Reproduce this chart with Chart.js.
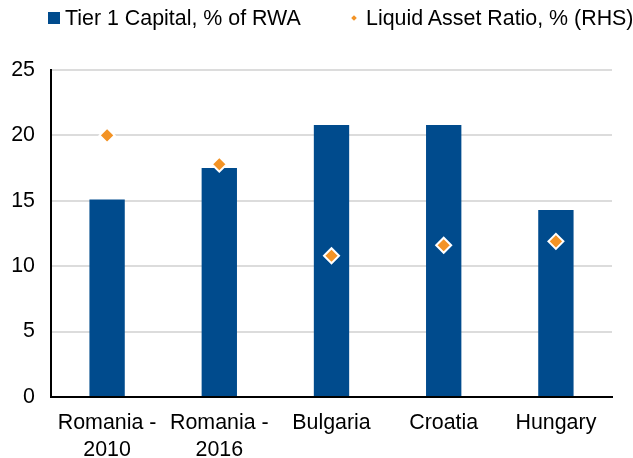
<!DOCTYPE html>
<html>
<head>
<meta charset="UTF-8">
<title>Tier 1 Capital and Liquid Asset Ratio</title>
<style>
  html, body { margin: 0; padding: 0; background: #fff; }
  #wrap { position: relative; width: 633px; height: 458px; overflow: hidden; }
  #chart { position: absolute; left: 0; top: 0; }
  .legend { position: absolute; left: 0; top: 0; width: 633px; height: 40px;
            font: 21.4px 'Liberation Sans', Arial, sans-serif; color: #000; }
  .legend span { position: absolute; white-space: nowrap; }
  .txt { top: 6px; line-height: 24px; }
  .sq { left: 48px; top: 12px; width: 12px; height: 12px; background: #004B8D; }
  .dm { left: 352px; top: 16px; width: 4px; height: 4px; background: #F39325; transform: rotate(45deg); }
</style>
</head>
<body>
<div id="wrap">
  <canvas id="chart" width="633" height="458"></canvas>
  <div class="legend">
    <span class="sq"></span><span class="txt" style="left:65px">Tier 1 Capital, % of RWA</span>
    <span class="dm"></span><span class="txt" style="left:366px">Liquid Asset Ratio, % (RHS)</span>
  </div>
</div>
<script src="https://cdn.jsdelivr.net/npm/chart.js"></script>
<script>
// values
const categories = [['Romania -', '2010'], ['Romania -', '2016'], 'Bulgaria', 'Croatia', 'Hungary'];
const tier1Capital = [15.1, 17.5, 20.8, 20.8, 14.3];
const liquidAssetRatio = [20.0, 17.8, 10.8, 11.6, 11.9];
const yTicks = [0, 5, 10, 15, 20, 25];

const blue = '#004B8D';
const orange = '#F39325';
const font = { family: "'Liberation Sans', Arial, sans-serif", size: 21.4 };

const ctx = document.getElementById('chart').getContext('2d');
new Chart(ctx, {
    type: 'bar',
    data: {
        labels: categories,
        datasets: [
            {
                type: 'line',
                label: 'Liquid Asset Ratio, % (RHS)',
                data: liquidAssetRatio,
                yAxisID: 'y2',
                showLine: false,
                pointStyle: 'rectRot',
                pointRadius: 7.5,
                pointHoverRadius: 7.5,
                pointBackgroundColor: orange,
                pointBorderColor: '#ffffff',
                pointBorderWidth: 2,
                order: 0
            },
            {
                label: 'Tier 1 Capital, % of RWA',
                data: tier1Capital,
                yAxisID: 'y',
                backgroundColor: blue,
                categoryPercentage: 1,
                barPercentage: 0.315,
                order: 1
            }
        ]
    },
    options: {
        responsive: false,
        animation: false,
        devicePixelRatio: 1,
        layout: { padding: { top: 70, right: 21, bottom: 0, left: 0 } },
        plugins: {
            legend: { display: false },
            tooltip: { enabled: false }
        },
        scales: {
            x: {
                grid: { display: false, drawTicks: false },
                border: { display: true, color: '#000', width: 2 },
                ticks: {
                    font: { ...font, lineHeight: 1.25 },
                    color: '#000',
                    padding: 13,
                    maxRotation: 0,
                    autoSkip: false
                },
                afterFit: (scale) => { scale.height = 61; }
            },
            y: {
                min: 0,
                max: 25,
                afterBuildTicks: (scale) => { scale.ticks = yTicks.map(v => ({ value: v })); },
                grid: { color: '#dcdcdc', lineWidth: 2, drawTicks: false },
                border: { color: '#000', width: 2 },
                ticks: { font, color: '#000', padding: 16 },
                afterFit: (scale) => { scale.width = 51; }
            },
            y2: { display: false, position: 'right', min: 0, max: 25 }
        }
    }
});
</script>
</body>
</html>
